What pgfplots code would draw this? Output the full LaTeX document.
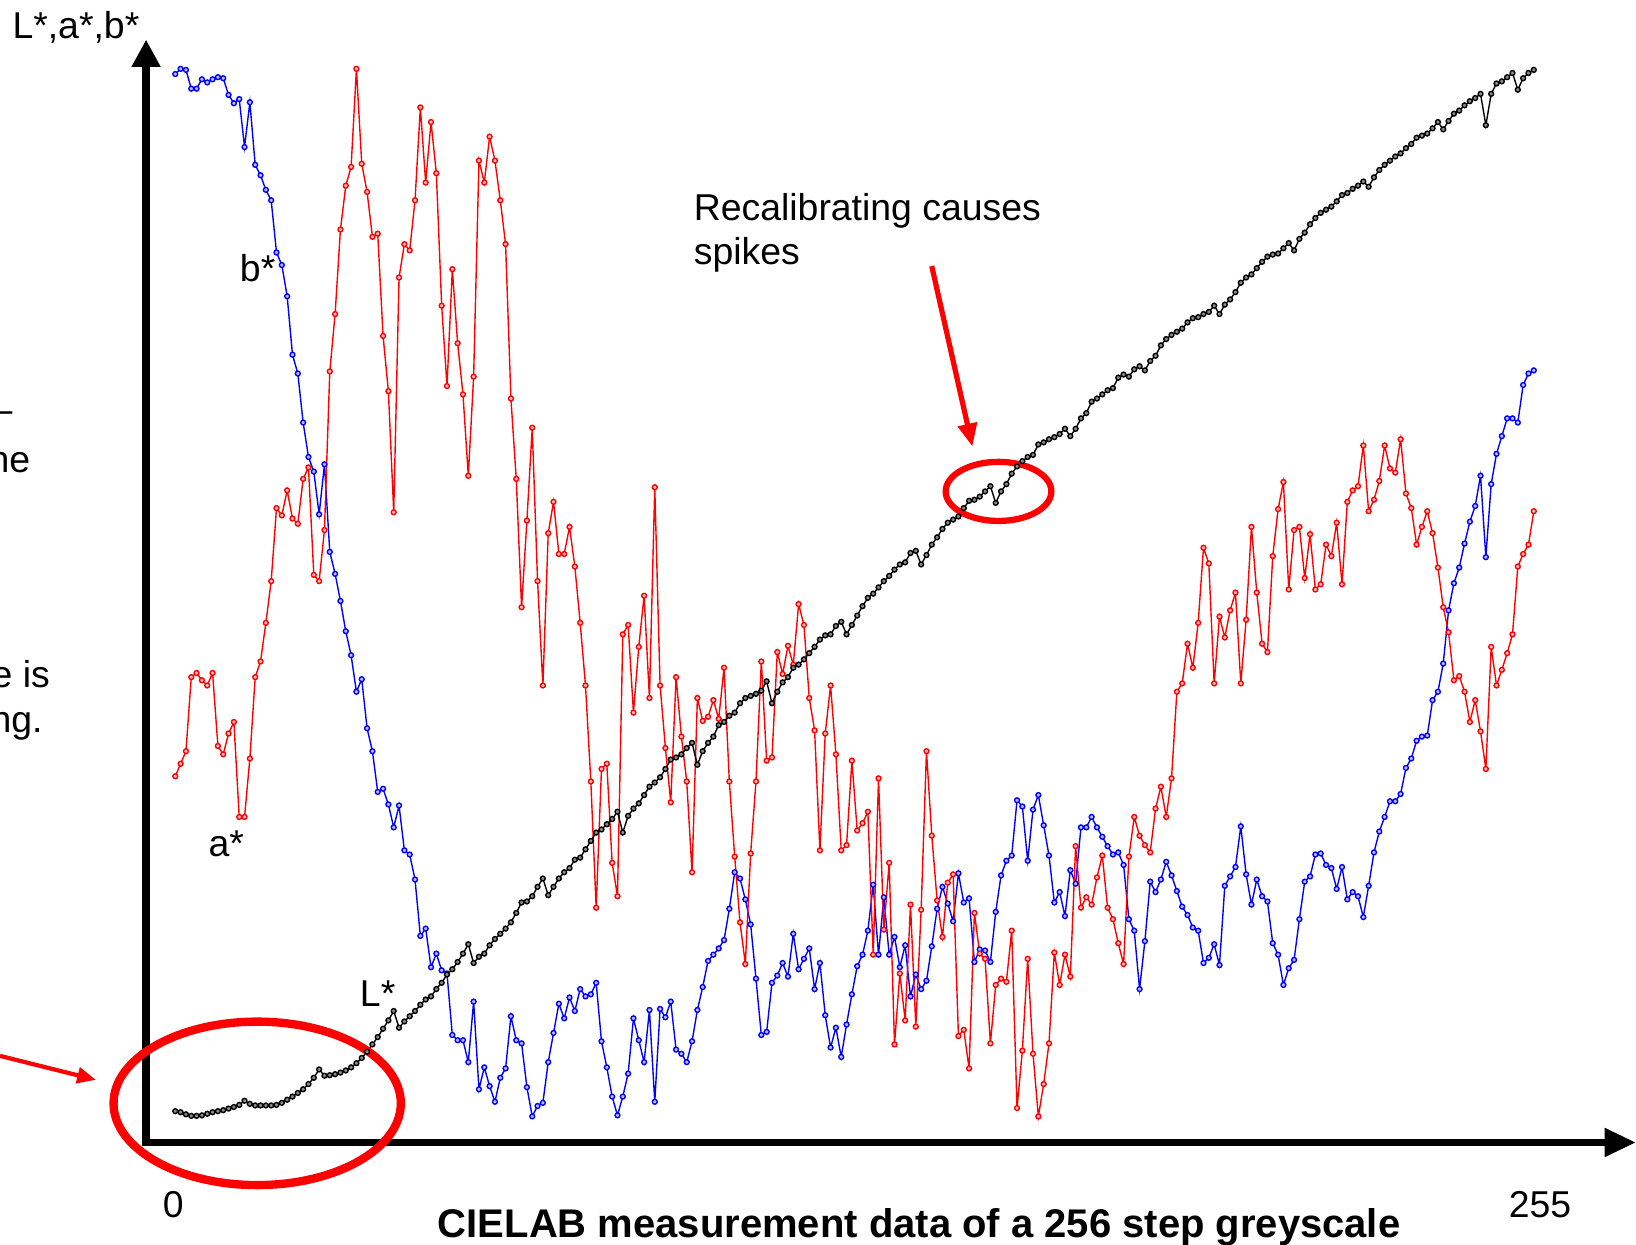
\documentclass[border=0pt]{standalone}
\usepackage{fontspec}
\setmainfont{Liberation Sans}
\usepackage{pgfplots}
\pgfplotsset{compat=1.18}
\usetikzlibrary{arrows.meta}
\tikzset{lbl/.style={inner sep=0pt,outer sep=0pt,font=\fontsize{10.75}{12.9}\selectfont}}
\begin{document}
\begin{tikzpicture}
\path[use as bounding box] (0,0) rectangle (470.4pt,357.9pt);
\clip (0,0) rectangle (470.4pt,357.9pt);
\begin{axis}[at={(0,0)},anchor=south west,width=470.4pt,height=357.9pt,scale only axis,
  xmin=0,xmax=1568,ymin=-98,ymax=1095,axis lines=none,ticks=none,
  x filter/.expression={168+5.106*x}]
% axes arrows
\draw[line width=2.1pt,-{Triangle[length=7.8pt,width=7.8pt]}] (axis cs:140,-3) -- (axis cs:140,1057);
\draw[line width=2.1pt,-{Triangle[length=9pt,width=7.8pt]}] (axis cs:137,0) -- (axis cs:1568,0);
% b*
\addplot[blue,line width=0.4pt,mark=*,mark size=0.7pt,mark options={draw=blue,fill=blue!25}] coordinates {
(0,1024)(1,1029)(2,1028)(3,1010)(4,1010)(5,1019)(6,1016)(7,1019)(8,1021)(9,1020)(10,1004)(11,996)(12,1000)(13,954)(14,997)(15,937)(16,927)(17,913)(18,903)(19,853)(20,841)(21,811)(22,755)(23,737)(24,690)(25,657)(26,643)(27,602)(28,650)(29,566)(30,545)(31,519)(32,490)(33,467)(34,432)(35,444)(36,397)(37,375)(38,336)(39,339)(40,324)(41,302)(42,323)(43,280)(44,276)(45,252)(46,198)(47,205)(48,168)(49,181)(50,165)(51,162)(52,103)(53,98)(54,98)(55,77)(56,135)(57,51)(58,72)(59,54)(60,39)(61,62)(62,71)(63,121)(64,98)(65,95)(66,53)(67,25)(68,35)(69,38)(70,77)(71,105)(72,133)(73,119)(74,139)(75,126)(76,147)(77,140)(78,142)(79,153)(80,97)(81,72)(82,44)(83,26)(84,44)(85,66)(86,119)(87,98)(88,77)(89,127)(90,39)(91,128)(92,120)(93,135)(94,89)(95,85)(96,77)(97,97)(98,127)(99,149)(100,174)(101,180)(102,186)(103,194)(104,224)(105,259)(106,253)(107,233)(108,209)(109,157)(110,103)(111,106)(112,153)(113,160)(114,172)(115,159)(116,200)(117,166)(118,176)(119,186)(120,147)(121,172)(122,122)(123,91)(124,110)(125,82)(126,113)(127,142)(128,169)(129,180)(130,203)(131,247)(132,180)(133,235)(134,180)(135,197)(136,168)(137,189)(138,140)(139,161)(140,147)(141,155)(142,188)(143,224)(144,245)(145,229)(146,212)(147,258)(148,230)(149,234)(150,173)(151,185)(152,184)(153,173)(154,221)(155,256)(156,270)(157,275)(158,328)(159,322)(160,270)(161,319)(162,333)(163,304)(164,275)(165,230)(166,240)(167,217)(168,261)(169,248)(170,302)(171,302)(172,312)(173,302)(174,293)(175,284)(176,276)(177,278)(178,266)(179,214)(180,203)(181,147)(182,193)(183,250)(184,240)(185,252)(186,269)(187,256)(188,241)(189,226)(190,218)(191,206)(192,203)(193,172)(194,177)(195,190)(196,170)(197,246)(198,255)(199,264)(200,303)(201,257)(202,228)(203,252)(204,236)(205,231)(206,191)(207,180)(208,151)(209,167)(210,175)(211,214)(212,250)(213,255)(214,276)(215,277)(216,266)(217,263)(218,243)(219,264)(220,233)(221,240)(222,236)(223,216)(224,246)(225,278)(226,298)(227,312)(228,327)(229,327)(230,334)(231,359)(232,368)(233,385)(234,389)(235,390)(236,424)(237,432)(238,459)(239,510)(240,536)(241,551)(242,574)(243,595)(244,610)(245,639)(246,561)(247,631)(248,660)(249,677)(250,694)(251,694)(252,690)(253,726)(254,737)(255,740)};
% a*
\addplot[red,line width=0.4pt,mark=*,mark size=0.7pt,mark options={draw=red,fill=red!25}] coordinates {
(0,351)(1,363)(2,375)(3,446)(4,450)(5,443)(6,438)(7,450)(8,380)(9,372)(10,392)(11,403)(12,312)(13,312)(14,368)(15,446)(16,461)(17,498)(18,538)(19,608)(20,601)(21,625)(22,598)(23,593)(24,636)(25,647)(26,544)(27,538)(28,587)(29,739)(30,794)(31,875)(32,917)(33,935)(34,1029)(35,938)(36,911)(37,868)(38,871)(39,773)(40,720)(41,604)(42,829)(43,861)(44,855)(45,903)(46,992)(47,920)(48,978)(49,929)(50,802)(51,725)(52,837)(53,766)(54,717)(55,639)(56,734)(57,941)(58,920)(59,964)(60,941)(61,903)(62,861)(63,713)(64,636)(65,513)(66,596)(67,685)(68,538)(69,438)(70,584)(71,614)(72,564)(73,564)(74,590)(75,552)(76,498)(77,438)(78,346)(79,225)(80,358)(81,363)(82,268)(83,236)(84,487)(85,496)(86,412)(87,475)(88,524)(89,426)(90,628)(91,438)(92,378)(93,326)(94,446)(95,389)(96,346)(97,259)(98,426)(99,404)(100,408)(101,424)(102,406)(103,455)(104,346)(105,274)(106,211)(107,171)(108,277)(109,346)(110,461)(111,366)(112,369)(113,470)(114,449)(115,476)(116,458)(117,516)(118,496)(119,426)(120,395)(121,280)(122,392)(123,438)(124,372)(125,280)(126,285)(127,366)(128,299)(129,306)(130,317)(131,180)(132,349)(133,204)(134,268)(135,94)(136,162)(137,117)(138,228)(139,111)(140,223)(141,375)(142,294)(143,232)(144,197)(145,249)(146,257)(147,102)(148,108)(149,71)(150,220)(151,181)(152,176)(153,95)(154,151)(155,157)(156,154)(157,203)(158,33)(159,88)(160,176)(161,85)(162,25)(163,56)(164,95)(165,182)(166,151)(167,180)(168,159)(169,284)(170,225)(171,235)(172,228)(173,254)(174,275)(175,225)(176,214)(177,191)(178,171)(179,274)(180,312)(181,294)(182,285)(183,278)(184,320)(185,341)(186,312)(187,349)(188,432)(189,440)(190,478)(191,455)(192,498)(193,570)(194,555)(195,440)(196,504)(197,484)(198,510)(199,527)(200,440)(201,501)(202,590)(203,527)(204,478)(205,470)(206,562)(207,607)(208,633)(209,530)(210,587)(211,590)(212,541)(213,583)(214,530)(215,535)(216,573)(217,562)(218,594)(219,535)(220,614)(221,625)(222,629)(223,668)(224,605)(225,616)(226,634)(227,668)(228,646)(229,642)(230,674)(231,622)(232,608)(233,573)(234,590)(235,605)(236,584)(237,551)(238,513)(239,489)(240,443)(241,447)(242,432)(243,403)(244,424)(245,394)(246,358)(247,475)(248,438)(249,453)(250,469)(251,487)(252,552)(253,564)(254,573)(255,605)};
% L*
\addplot[black,line width=0.4pt,mark=*,mark size=0.7pt,mark options={draw=black,fill=black!45}] coordinates {
(0,30)(1,29)(2,27)(3,25.5)(4,25.5)(5,26)(6,27.5)(7,29)(8,30)(9,31)(10,32.5)(11,34)(12,36)(13,40)(14,37)(15,35.5)(16,35.5)(17,35.5)(18,35.5)(19,36)(20,38)(21,41)(22,44)(23,47.5)(24,51)(25,56)(26,62)(27,70)(28,64)(29,64.5)(30,65.5)(31,67)(32,69)(33,72)(34,76)(35,81)(36,87)(37,94)(38,101)(39,109)(40,117)(41,126)(42,110)(43,116)(44,121)(45,126)(46,132)(47,137)(48,140)(49,147)(50,153)(51,161)(52,166)(53,173)(54,181)(55,190)(56,172)(57,178)(58,181)(59,189)(60,195)(61,200)(62,205)(63,211)(64,220)(65,230)(66,231)(67,236)(68,245)(69,253)(70,237)(71,245)(72,253)(73,259)(74,263)(75,271)(76,273)(77,281)(78,289)(79,297)(80,300)(81,305)(82,310)(83,317)(84,297)(85,313)(86,320)(87,325)(88,333)(89,341)(90,345)(91,350)(92,358)(93,367)(94,369)(95,372)(96,378)(97,383)(98,362)(99,375)(100,383)(101,389)(102,400)(103,403)(104,409)(105,412)(106,421)(107,426)(108,428)(109,430)(110,433)(111,442)(112,421)(113,432)(114,441)(115,446)(116,455)(117,458)(118,463)(119,469)(120,475)(121,482)(122,486)(123,487)(124,495)(125,499)(126,487)(127,496)(128,505)(129,514)(130,522)(131,526)(132,532)(133,538)(134,543)(135,549)(136,554)(137,556)(138,565)(139,567)(140,554)(141,563)(142,573)(143,580)(144,588)(145,594)(146,597)(147,600)(148,608)(149,615)(150,616)(151,619)(152,624)(153,629)(154,613)(155,624)(156,631)(157,641)(158,648)(159,653)(160,657)(161,659)(162,669)(163,671)(164,674)(165,676)(166,679)(167,684)(168,677)(169,684)(170,694)(171,699)(172,710)(173,713)(174,717)(175,721)(176,723)(177,733)(178,736)(179,734)(180,741)(181,744)(182,740)(183,749)(184,754)(185,764)(186,770)(187,774)(188,777)(189,780)(190,786)(191,790)(192,791)(193,794)(194,796)(195,802)(196,794)(197,803)(198,808)(199,815)(200,824)(201,829)(202,832)(203,838)(204,844)(205,849)(206,851)(207,852)(208,857)(209,862)(210,855)(211,866)(212,872)(213,880)(214,886)(215,891)(216,894)(217,897)(218,902)(219,908)(220,910)(221,914)(222,917)(223,921)(224,916)(225,925)(226,932)(227,937)(228,941)(229,945)(230,948)(231,953)(232,957)(233,963)(234,965)(235,967)(236,972)(237,978)(238,971)(239,979)(240,986)(241,989)(242,994)(243,998)(244,1001)(245,1005)(246,975)(247,1005)(248,1015)(249,1017)(250,1021)(251,1025)(252,1009)(253,1020)(254,1025)(255,1028)};
% annotations
\draw[red,line width=2.4pt] (axis cs:246.5,37.5) ellipse [x radius=41.3pt,y radius=23.5pt];
\draw[red,line width=1.8pt] (axis cs:957,624) ellipse [x radius=15.2pt,y radius=8.5pt];
\draw[red,line width=1.5pt,-{Triangle[length=6.6pt,width=5.4pt]}] (axis cs:893,840) -- (axis cs:932,667);
\draw[red,line width=1.2pt,-{Triangle[length=5.4pt,width=4.5pt]}] (axis cs:0,83) -- (axis cs:92,60);
\node[lbl,anchor=base west] at (axis cs:12,1058) {L*,a*,b*};
\node[lbl,anchor=base west] at (axis cs:665,884) {Recalibrating causes};
\node[lbl,anchor=base west] at (axis cs:665,841) {spikes};
\node[lbl,anchor=base west] at (axis cs:230,825) {b*};
\node[lbl,anchor=base west] at (axis cs:200,274) {a*};
\node[lbl,anchor=base west] at (axis cs:345,130) {L*};
\node[lbl,anchor=base] at (axis cs:166,-72) {0};
\node[lbl,anchor=base] at (axis cs:1476,-72) {255};
\node[lbl,anchor=base,font=\fontsize{11.5}{13.8}\selectfont\bfseries] at (axis cs:881,-91) {CIELAB measurement data of a 256 step greyscale};
\node[lbl,anchor=base west] at (axis cs:-8,690) {–};
\node[lbl,anchor=base west] at (axis cs:-11,642) {he};
\node[lbl,anchor=base west] at (axis cs:-8,436) {e is};
\node[lbl,anchor=base west] at (axis cs:-9,393) {ng.};
\end{axis}
\end{tikzpicture}
\end{document}
